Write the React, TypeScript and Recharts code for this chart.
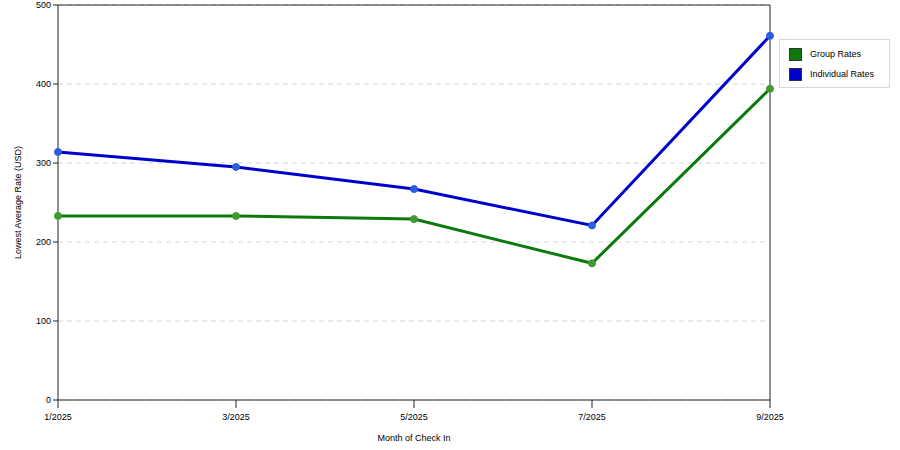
import React from 'react';
import {
    LineChart,
    Line,
    XAxis,
    YAxis,
    CartesianGrid,
    ReferenceLine,
    Label,
} from 'recharts';

const months = ['1/2025', '3/2025', '5/2025', '7/2025', '9/2025'];
const groupRates = [233, 233, 229, 173, 394];
const individualRates = [314, 295, 267, 221, 461];
const yTicks = [0, 100, 200, 300, 400, 500];

const GREEN = '#0b7a0b';
const BLUE = '#0000cc';
const FONT = '"Liberation Sans", Arial, sans-serif';

const data = months.map((m, i) => ({
    month: m,
    group: groupRates[i],
    individual: individualRates[i],
}));

const legendItems = [
    { name: 'Group Rates', color: GREEN },
    { name: 'Individual Rates', color: BLUE },
];

// legend sits outside the plot, drawn as a plain box over the chart
const LegendBox = () => (
    <div
        style={{
            position: 'absolute',
            left: 779,
            top: 39,
            border: '1px solid #d8d8d8',
            background: '#fff',
            width: 111,
            height: 49,
            padding: '4px 0 0 9px',
            fontFamily: FONT,
            fontSize: 9,
            color: '#000',
            boxSizing: 'border-box',
        }}
    >
        {legendItems.map((it) => (
            <div key={it.name} style={{ display: 'flex', alignItems: 'center', height: 20 }}>
                <span
                    style={{
                        width: 11,
                        height: 11,
                        background: it.color,
                        border: '1px solid #333',
                        marginRight: 8,
                        display: 'inline-block',
                    }}
                />
                {it.name}
            </div>
        ))}
    </div>
);

const App: React.FC = () => {
    return (
        <div style={{ position: 'absolute', left: 0, top: 0, width: 900, height: 450, background: '#fff' }}>
            <LineChart
                width={900}
                height={450}
                data={data}
                margin={{ top: 5, right: 130, bottom: 0, left: 0 }}
            >
                <CartesianGrid
                    vertical={false}
                    stroke="#d6d6d6"
                    strokeDasharray="5 4"
                />
                <ReferenceLine y={500} stroke="#222" strokeWidth={1} />
                <ReferenceLine x="9/2025" stroke="#222" strokeWidth={1} />
                <XAxis
                    dataKey="month"
                    height={50}
                    stroke="#222"
                    tickSize={8}
                    tick={{ fontSize: 9, fill: '#000', fontFamily: FONT }}
                    tickMargin={6}
                    interval={0}
                >
                    <Label
                        value="Month of Check In"
                        position="insideBottom"
                        offset={9}
                        style={{ fontSize: 9, fill: '#000', fontFamily: FONT }}
                    />
                </XAxis>
                <YAxis
                    domain={[0, 500]}
                    ticks={yTicks}
                    width={58}
                    stroke="#222"
                    tickSize={5}
                    tick={{ fontSize: 9, fill: '#000', fontFamily: FONT }}
                    tickMargin={2}
                >
                    <Label
                        value="Lowest Average Rate (USD)"
                        angle={-90}
                        position="insideLeft"
                        offset={18}
                        style={{ fontSize: 9, fill: '#000', fontFamily: FONT, textAnchor: 'middle' }}
                    />
                </YAxis>
                <Line
                    type="linear"
                    dataKey="group"
                    name="Group Rates"
                    stroke={GREEN}
                    strokeWidth={3}
                    dot={{ r: 3.5, fill: '#3f9a2f', stroke: '#3f9a2f', strokeWidth: 1 }}
                    isAnimationActive={false}
                />
                <Line
                    type="linear"
                    dataKey="individual"
                    name="Individual Rates"
                    stroke={BLUE}
                    strokeWidth={3}
                    dot={{ r: 3.5, fill: '#2a5ee0', stroke: '#2a5ee0', strokeWidth: 1 }}
                    isAnimationActive={false}
                />
            </LineChart>
            <LegendBox />
        </div>
    );
};

export default App;
